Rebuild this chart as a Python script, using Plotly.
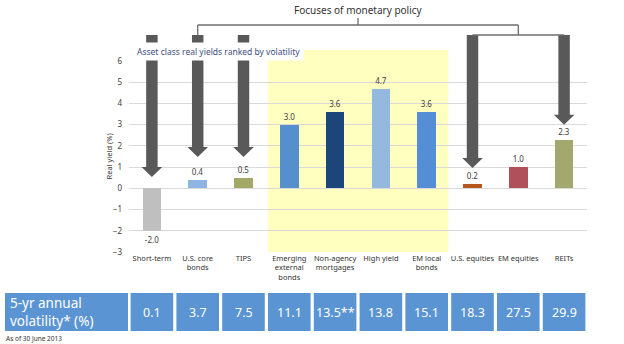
import plotly.graph_objects as go

# ---- data -------------------------------------------------------------
categories = ["Short-term", "U.S. core<br>bonds", "TIPS", "Emerging<br>external<br>bonds",
              "Non-agency<br>mortgages", "High yield", "EM local<br>bonds",
              "U.S. equities", "EM equities", "REITs"]
real_yield = [-2.0, 0.4, 0.5, 3.0, 3.6, 4.7, 3.6, 0.2, 1.0, 2.3]
volatility = [0.1, 3.7, 7.5, 11.1, 13.5, 13.8, 15.1, 18.3, 27.5, 29.9]
vol_marks = ["", "", "", "", "**", "", "", "", "", ""]
y_ticks = [-3, -2, -1, 0, 1, 2, 3, 4, 5, 6]

bar_colors = ["#BFBFBF", "#8EB4E3", "#A3A867", "#5590CC", "#1C4679",
              "#95B8DE", "#558ED5", "#B5561C", "#B0505A", "#A2A86E"]

# ---- layout geometry (pixels of the 624x344 canvas) ------------------
W, H = 624, 344
X0, X1 = 129, 587          # plot area left / right
Y_TOP, Y_BOT = 61, 252     # plot area top / bottom
YMIN, YMAX = -3, 6
FONT = "Noto Sans"
ARROW = "#595959"
LINE = "#6E6E6E"


def py(pix):
    """canvas pixel row -> paper y"""
    return (Y_BOT - pix) / (Y_BOT - Y_TOP)


def px(pix):
    """canvas pixel column -> paper x"""
    return (pix - X0) / (X1 - X0)


def vy(v):
    """axis value -> paper y"""
    return (v - YMIN) / (YMAX - YMIN)


n = len(categories)
xs = list(range(n))

fig = go.Figure()
fig.add_trace(go.Bar(
    x=xs, y=real_yield, width=0.41,
    marker=dict(color=bar_colors, line=dict(width=0)),
    text=[f"{v:.1f}" for v in real_yield], textposition="outside",
    textfont=dict(size=8, color="#404040", family=FONT),
    cliponaxis=False, hoverinfo="skip",
))

shapes = []
annotations = []

# highlighted middle block (credit / EM bonds)
shapes.append(dict(type="rect", xref="x", yref="paper", x0=2.53, x1=6.47,
                   y0=0, y1=py(50), fillcolor="#FFFFC0", line=dict(width=0),
                   layer="below"))

# thick downward arrows: (category index, top pixel row, tip value)
arrows = [(0, 35, 0.53), (1, 35, 1.48), (2, 35, 1.48), (7, 35, 0.96), (9, 35, 3.0)]
hw, hh = 0.125, 0.225
head = 10 / (Y_BOT - Y_TOP)
for i, top, tip in arrows:
    yt, ytip = py(top), vy(tip)
    yb = ytip + head
    path = (f"M {i-hw},{yt} L {i+hw},{yt} L {i+hw},{yb} L {i+hh},{yb} "
            f"L {i},{ytip} L {i-hh},{yb} L {i-hw},{yb} Z")
    shapes.append(dict(type="path", xref="x", yref="paper", path=path,
                       fillcolor=ARROW, line=dict(width=0), layer="above"))

# bracket joining the policy-focused asset classes
bracket = [((4.5, 18), (4.5, 25)), ((1, 25), (8, 25)), ((1, 25), (1, 35)),
           ((8, 25), (8, 35)), ((7, 35), (9, 35))]
for (xa, ya), (xb, yb2) in bracket:
    shapes.append(dict(type="line", xref="x", yref="paper", x0=xa, x1=xb,
                       y0=py(ya), y1=py(yb2), line=dict(color=LINE, width=1.3)))

annotations.append(dict(text="Focuses of monetary policy", xref="x", yref="paper",
                        x=4.5, y=py(10), showarrow=False, xanchor="center",
                        yanchor="middle", font=dict(size=10, color="#333333", family=FONT)))
annotations.append(dict(text="Asset class real yields ranked by volatility", xref="paper",
                        yref="paper", x=px(133), y=py(51), showarrow=False,
                        xanchor="left", yanchor="middle", bgcolor="white", borderpad=3,
                        font=dict(size=8.5, color="#3F4E80", family=FONT)))
annotations.append(dict(text="Real yield (%)", xref="paper", yref="paper",
                        x=px(108), y=0.5, textangle=-90, showarrow=False,
                        xanchor="center", yanchor="middle",
                        font=dict(size=7.5, color="#333333", family=FONT)))

# volatility strip below the chart
CELL = "#5A94D2"
c_top, c_bot = py(293), py(331)
shapes.append(dict(type="rect", xref="paper", yref="paper", x0=px(5), x1=px(128),
                   y0=c_bot, y1=c_top, fillcolor=CELL, line=dict(width=0)))
annotations.append(dict(text="5-yr annual<br>volatility* (%)", xref="paper", yref="paper",
                        x=px(8), y=(c_top + c_bot) / 2, showarrow=False, xanchor="left",
                        yanchor="middle", align="left",
                        font=dict(size=13.5, color="white", family=FONT)))
for i, (v, m) in enumerate(zip(volatility, vol_marks)):
    shapes.append(dict(type="rect", xref="x", yref="paper", x0=i - 0.465, x1=i + 0.465,
                       y0=c_bot, y1=c_top, fillcolor=CELL, line=dict(width=0)))
    annotations.append(dict(text=f"{v:.1f}{m}", xref="x", yref="paper", x=i,
                            y=(c_top + c_bot) / 2, showarrow=False, xanchor="center",
                            yanchor="middle",
                            font=dict(size=12.5, color="white", family=FONT)))

annotations.append(dict(text="As of 30 June 2013", xref="paper", yref="paper",
                        x=px(4), y=py(338), showarrow=False, xanchor="left",
                        yanchor="middle", font=dict(size=6.5, color="#333333", family=FONT)))

fig.update_layout(
    width=W, height=H,
    margin=dict(l=X0, r=W - X1, t=Y_TOP, b=H - Y_BOT),
    paper_bgcolor="white", plot_bgcolor="rgba(0,0,0,0)",
    showlegend=False, bargap=0,
    font=dict(family=FONT, color="#404040"),
    shapes=shapes, annotations=annotations,
    xaxis=dict(range=[-0.5, n - 0.5], tickvals=xs, ticktext=categories,
               tickangle=0, showgrid=False, zeroline=False, showline=False, ticks="",
               tickfont=dict(size=7.5, color="#333333", family=FONT)),
    yaxis=dict(range=[YMIN, YMAX], tickvals=y_ticks, showgrid=True,
               gridcolor="#D9D9D9", gridwidth=1, zeroline=False, showline=False,
               ticks="", ticklabelstandoff=6,
               tickfont=dict(size=8, color="#404040", family=FONT)),
)

fig.write_html("out.html")
